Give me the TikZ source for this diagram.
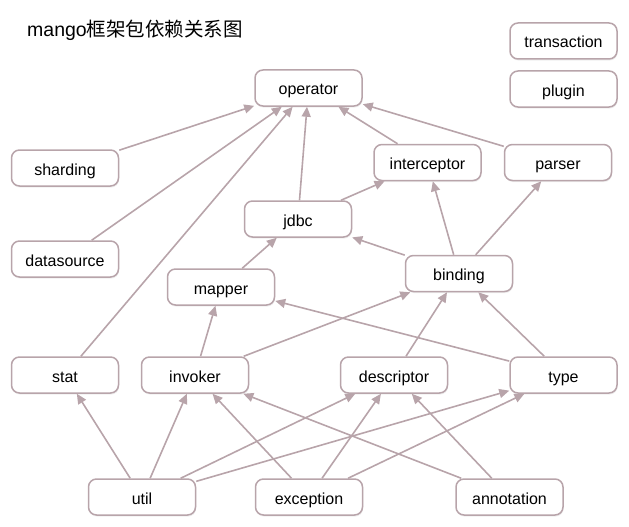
\documentclass[tikz,border=0pt]{standalone}
\usepackage{fontspec}
\setmainfont{Liberation Sans}
\newfontfamily\cjk{Noto Sans CJK SC}
\usetikzlibrary{arrows.meta}
\usetikzlibrary{shadows}
\definecolor{pkgline}{RGB}{184,164,170}

\begin{document}
\begin{tikzpicture}[x=1pt,y=-1pt,
  pkg/.style={rectangle,draw=pkgline,line width=1.5pt,fill=white,rounded corners=8pt,
    minimum width=107pt,minimum height=36pt,text height=15pt,text depth=1pt,
    font=\fontsize{16}{19}\selectfont,
    drop shadow={opacity=0.12,shadow xshift=0.6pt,shadow yshift=-1.6pt}},
  dep/.style={draw=pkgline,line width=1.6pt,-{Triangle[length=10pt,width=9pt]}}]
\useasboundingbox (0,0) rectangle (629,527);
\path (27,30) node(title) [anchor=west,inner sep=0pt]{\fontsize{19.5}{22}\selectfont mango\cjk 框架包依赖关系图};
% packages
\path (308.5,88) node(operator) [pkg]{operator};
\path (563.5,41) node(transaction) [pkg]{transaction};
\path (563.5,89) node(plugin) [pkg]{plugin};
\path (65,168) node(sharding) [pkg]{sharding};
\path (427.5,162.5) node(interceptor) [pkg]{interceptor};
\path (558,162.5) node(parser) [pkg]{parser};
\path (298,219) node(jdbc) [pkg]{jdbc};
\path (65,259) node(datasource) [pkg]{datasource};
\path (459,273.5) node(binding) [pkg]{binding};
\path (221,287) node(mapper) [pkg]{mapper};
\path (65,375) node(stat) [pkg]{stat};
\path (195,375) node(invoker) [pkg]{invoker};
\path (394,375) node(descriptor) [pkg]{descriptor};
\path (563.5,375) node(type) [pkg]{type};
\path (142,497) node(util) [pkg]{util};
\path (309,497) node(exception) [pkg]{exception};
\path (509.5,497) node(annotation) [pkg]{annotation};
% dependencies
\foreach \from/\to in {sharding/operator,datasource/operator,stat/operator,jdbc/operator,
  interceptor/operator,parser/operator,jdbc/interceptor,binding/interceptor,binding/parser,
  binding/jdbc,mapper/jdbc,type/mapper,invoker/mapper,invoker/binding,descriptor/binding,
  type/binding,util/stat,util/invoker,util/descriptor,util/type,exception/invoker,
  exception/descriptor,exception/type,annotation/invoker,annotation/descriptor}
  \draw[dep] (\from) -- (\to);
\end{tikzpicture}
\end{document}
